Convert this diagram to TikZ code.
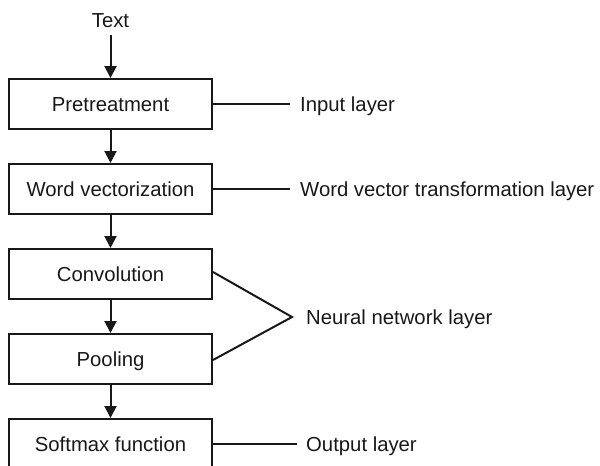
\documentclass[tikz,border=0pt]{standalone}
\usepackage{fontspec}
\setmainfont{Liberation Sans}
\usetikzlibrary{arrows.meta}
\definecolor{ink}{RGB}{24,24,24}
\tikzset{
  stepbox/.style={draw=ink, line width=2pt, minimum width=203pt, minimum height=50pt,
    inner sep=0pt, text height=14.6pt, text depth=0pt, text=ink,
    font=\fontsize{20.3}{24}\selectfont},
  lbl/.style={anchor=west, inner ysep=0pt, text height=14.6pt, text depth=0pt, text=ink,
    font=\fontsize{20.3}{24}\selectfont},
  arr/.style={draw=ink, line width=2pt, -{Triangle[width=12pt,length=12pt]}},
  conn/.style={draw=ink, line width=2pt},
}
\begin{document}
\begin{tikzpicture}[x=1pt,y=-1pt]
\useasboundingbox (0,0) rectangle (600,466);
\clip (0,0) rectangle (600,466);
\node[lbl, anchor=center, inner xsep=0pt] (txt) at (110.5,20) {Text};
\coordinate (ts) at (110.5,35);
\node[stepbox] (pre) at (110.5,104) {Pretreatment};
\node[stepbox] (wv) at (110.5,189) {Word vectorization};
\node[stepbox] (conv) at (110.5,274) {Convolution};
\node[stepbox] (pool) at (110.5,359) {Pooling};
\node[stepbox] (soft) at (110.5,444) {Softmax function};
\draw[arr] (ts) -- (pre);
\draw[arr] (pre) -- (wv);
\draw[arr] (wv) -- (conv);
\draw[arr] (conv) -- (pool);
\draw[arr] (pool) -- (soft);
\node[lbl, inner xsep=10pt] (inl) at (290,104) {Input layer};
\node[lbl, inner xsep=10pt] (wvl) at (290,189) {Word vector transformation layer};
\node[lbl, inner xsep=14pt] (nnl) at (292,317) {Neural network layer};
\node[lbl, inner xsep=9pt] (outl) at (297,444) {Output layer};
\draw[conn] (pre.east) -- (inl.west);
\draw[conn] (wv.east) -- (wvl.west);
\draw[conn] ([yshift=2pt]conv.east) -- (nnl.west) -- ([yshift=-1pt]pool.east);
\draw[conn] (soft.east) -- (outl.west);
\end{tikzpicture}
\end{document}
